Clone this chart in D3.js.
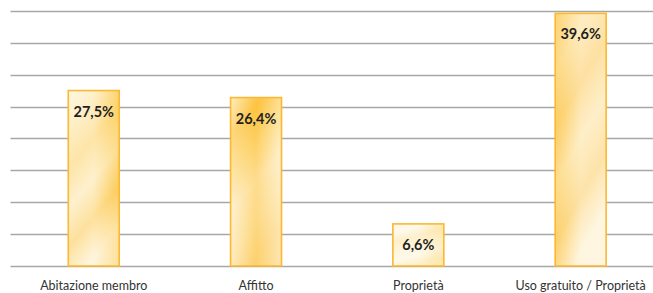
<!DOCTYPE html>
<html>
<head>
<meta charset="utf-8">
<script src="https://cdn.jsdelivr.net/npm/d3@7"></script>
<style>
  body { margin: 0; background: #fff; }
  svg { display: block; }
</style>
</head>
<body>
<div class="chart"></div>
<script>
// data
const categories = ["Abitazione membro", "Affitto", "Proprietà", "Uso gratuito / Proprietà"];
const values = [27.5, 26.4, 6.6, 39.6];
const valueLabels = ["27,5%", "26,4%", "6,6%", "39,6%"];
const gridTicks = [0, 5, 10, 15, 20, 25, 30, 35, 40];

let width = 653, height = 293;

let svg = d3.select(".chart")
  .append("svg")
  .attr("width", width)
  .attr("height", height);

let x = d3.scaleBand()
  .domain(categories)
  .range([12.6, 661.8])
  .paddingInner(0.686)
  .paddingOuter(0.343);

let y = d3.scaleLinear()
  .domain([0, 40])
  .range([266, 10.8]);

// textured look of the bars, faked with gradients
let defs = svg.append("defs");
let looks = [
  { v: ["#fef3d6", "#fde6a8", "#fdd77a", "#fde9b4", "#fcd068", "#fef0cc"],
    h: ["#ffffff", "#ffffff", "#fcc440"] },
  { v: ["#fde3a0", "#fcc23c", "#fdd777", "#fee9b8", "#fde4a6", "#fdd888"],
    h: ["#ffffff", "#fcc440", "#ffffff"] },
  { v: ["#fef3d8", "#fef6e2", "#fde7b0", "#fef0cc", "#fef5dd", "#fde9b5"],
    h: ["#ffffff", "#ffffff", "#fde3a0"] },
  { v: ["#fdd98a", "#fde2a2", "#fcd070", "#fde6ac", "#fcd47c", "#fef1d0"],
    h: ["#fcc848", "#ffffff", "#ffffff"] }
];

looks.forEach(function(l, i) {
  let gv = defs.append("linearGradient")
    .attr("id", "gv" + i)
    .attr("x1", 0).attr("y1", 0).attr("x2", 0.35).attr("y2", 1);
  l.v.forEach(function(c, j) {
    gv.append("stop")
      .attr("offset", j / (l.v.length - 1))
      .attr("stop-color", c);
  });
  let gh = defs.append("linearGradient")
    .attr("id", "gh" + i)
    .attr("x1", 0).attr("y1", 0).attr("x2", 1).attr("y2", 0);
  l.h.forEach(function(c, j) {
    gh.append("stop")
      .attr("offset", j / (l.h.length - 1))
      .attr("stop-color", c)
      .attr("stop-opacity", 0.35);
  });
});

// gridlines
svg.append("g")
  .selectAll("line")
  .data(gridTicks)
  .enter()
  .append("line")
  .attr("x1", 10.5)
  .attr("x2", width)
  .attr("y1", function(d) { return Math.round(y(d)) + 0.5; })
  .attr("y2", function(d) { return Math.round(y(d)) + 0.5; })
  .attr("stroke", "#a7a7a7")
  .attr("stroke-width", 1.6);

let bars = svg.append("g")
  .selectAll("g")
  .data(values)
  .enter()
  .append("g");

bars.append("rect")
  .attr("x", function(d, i) { return x(categories[i]); })
  .attr("y", function(d) { return y(d); })
  .attr("width", x.bandwidth())
  .attr("height", function(d) { return y(0) - y(d); })
  .attr("fill", function(d, i) { return "url(#gv" + i + ")"; });

bars.append("rect")
  .attr("x", function(d, i) { return x(categories[i]); })
  .attr("y", function(d) { return y(d); })
  .attr("width", x.bandwidth())
  .attr("height", function(d) { return y(0) - y(d); })
  .attr("fill", function(d, i) { return "url(#gh" + i + ")"; })
  .attr("stroke", "#fbb832")
  .attr("stroke-width", 1.6);

bars.append("text")
  .attr("x", function(d, i) { return x(categories[i]) + x.bandwidth() / 2; })
  .attr("y", function(d) { return y(d) + 26; })
  .attr("text-anchor", "middle")
  .attr("font-family", "Lato, 'Open Sans', sans-serif")
  .attr("font-weight", "bold")
  .attr("font-size", 14.5)
  .attr("fill", "#231f20")
  .text(function(d, i) { return valueLabels[i]; });

// category labels
svg.append("g")
  .selectAll("text")
  .data(categories)
  .enter()
  .append("text")
  .attr("x", function(d) { return x(d) + x.bandwidth() / 2; })
  .attr("y", 289.5)
  .attr("text-anchor", "middle")
  .attr("font-family", "Lato, 'Open Sans', sans-serif")
  .attr("font-size", 12.5)
  .attr("fill", "#333")
  .text(function(d) { return d; });
</script>
</body>
</html>
